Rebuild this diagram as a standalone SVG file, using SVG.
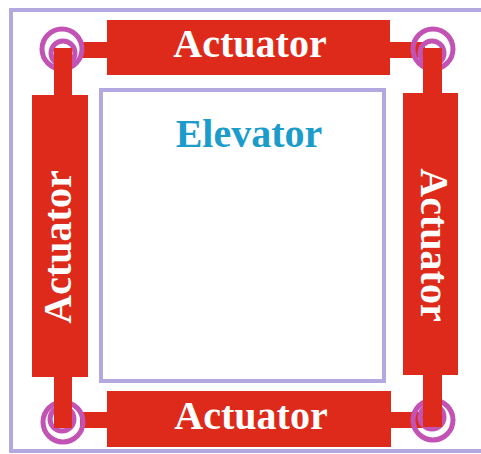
<svg xmlns="http://www.w3.org/2000/svg" width="481" height="454" viewBox="0 0 481 454">
<style>
.frame{fill:none;stroke:#b3a9e0;stroke-width:4}
.body{fill:#de2a1a}
.ring{fill:none;stroke:#c253b4;stroke-width:5}
.lbl{font-family:"Liberation Serif","Times New Roman",serif;font-weight:bold;font-size:40px;fill:#ffffff;text-anchor:middle}
.elev{font-family:"Liberation Serif","Times New Roman",serif;font-weight:bold;font-size:40px;fill:#1c9ccb;text-anchor:middle}
</style>
<rect width="481" height="454" fill="#ffffff"/>
<rect class="frame" x="11" y="10" width="490" height="441"/>
<g id="elevator">
<rect class="frame" x="101" y="90" width="283" height="291"/>
<text class="elev" x="249" y="147">Elevator</text>
</g>
<g id="connectors">
<rect class="body" x="80" y="42" width="30" height="16"/>
<rect class="body" x="387" y="42" width="38" height="16"/>
<rect class="body" x="80" y="412" width="30" height="16"/>
<rect class="body" x="388" y="412" width="37" height="16"/>
<g id="joint-tl"><circle class="ring" cx="62" cy="49" r="20"/><circle class="ring" cx="63" cy="53" r="12"/><rect class="body" x="54" y="48" width="18" height="50"/></g>
<g id="joint-tr"><circle class="ring" cx="433" cy="49" r="20"/><circle class="ring" cx="432" cy="53" r="12"/><rect class="body" x="423" y="48" width="19" height="48"/></g>
<g id="joint-bl"><circle class="ring" cx="63" cy="422" r="20"/><circle class="ring" cx="62" cy="419" r="12"/><rect class="body" x="54" y="374" width="18" height="54"/></g>
<g id="joint-br"><circle class="ring" cx="433" cy="420" r="20"/><circle class="ring" cx="432" cy="417" r="12"/><rect class="body" x="423" y="372" width="19" height="55"/></g>
</g>
<g id="actuator-top">
<rect class="body" x="107" y="20" width="283" height="55"/>
<text class="lbl" x="250" y="57">Actuator</text>
</g>
<g id="actuator-bottom">
<rect class="body" x="107" y="391" width="284" height="56"/>
<text class="lbl" x="251" y="429">Actuator</text>
</g>
<g id="actuator-left">
<rect class="body" x="32" y="95" width="56" height="282"/>
<text class="lbl" transform="translate(71,247) rotate(-90)" x="0" y="0">Actuator</text>
</g>
<g id="actuator-right">
<rect class="body" x="403" y="93" width="55" height="282"/>
<text class="lbl" transform="translate(421,245) rotate(90)" x="0" y="0">Actuator</text>
</g>
</svg>
